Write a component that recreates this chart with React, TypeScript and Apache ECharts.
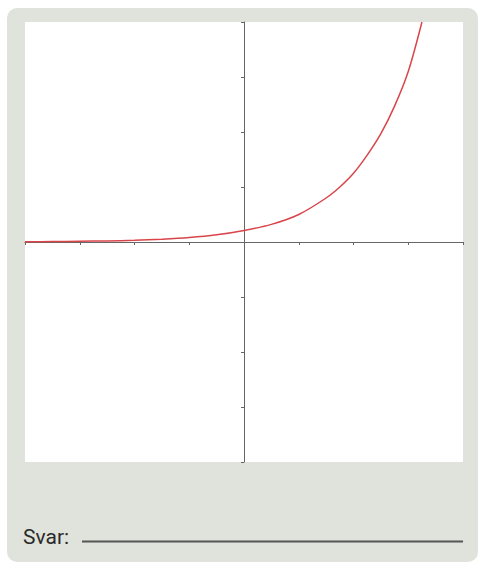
import React, { useEffect, useRef } from "react";
import * as echarts from "echarts";

const xValues = [-4, -3.5, -3, -2.5, -2, -1.5, -1, -0.5, 0, 0.5, 1, 1.5, 1.75, 2, 2.25, 2.5, 2.75, 3, 3.25];
const yValues = [0.005, 0.008, 0.013, 0.02, 0.03, 0.05, 0.08, 0.13, 0.21, 0.32, 0.5, 0.8, 1.0, 1.25, 1.58, 1.97, 2.47, 3.1, 4.0];
const axisMin = -4;
const axisMax = 4;
const answerLabel = "Svar:";

export default function App() {
  const ref = useRef<HTMLDivElement>(null);
  useEffect(() => {
    if (!ref.current) return;
    const chart = echarts.init(ref.current, undefined, { renderer: "svg" });
    const data = xValues.map((x, i) => [x, yValues[i]]);
    chart.setOption({
      animation: false,
      backgroundColor: "#ffffff",
      graphic: [
        {
          type: "rect",
          z: -100,
          silent: true,
          shape: { x: 7, y: 8, width: 471, height: 554, r: 10 },
          style: { fill: "#e0e3dc" },
        },
        {
          type: "text",
          z: 100,
          x: 23,
          y: 547,
          style: {
            text: answerLabel,
            fontFamily: "Roboto",
            fontSize: 21,
            fill: "#2a2a2a",
            textVerticalAlign: "bottom",
          },
        },
        {
          type: "line",
          z: 100,
          shape: { x1: 82, y1: 541.5, x2: 463, y2: 541.5 },
          style: { stroke: "#555555", lineWidth: 2 },
        },
      ],
      grid: {
        left: 25,
        top: 22,
        width: 438,
        height: 440,
        show: true,
        backgroundColor: "#ffffff",
        borderWidth: 0,
      },
      xAxis: {
        type: "value",
        min: axisMin,
        max: axisMax,
        interval: 1,
        axisLine: { onZero: true, lineStyle: { color: "#666666", width: 1 } },
        axisTick: { show: true, length: 3, lineStyle: { color: "#666666" } },
        axisLabel: { show: false },
        splitLine: { show: false },
      },
      yAxis: {
        type: "value",
        min: axisMin,
        max: axisMax,
        interval: 1,
        axisLine: { onZero: true, lineStyle: { color: "#666666", width: 1 } },
        axisTick: { show: true, length: 3, lineStyle: { color: "#666666" } },
        axisLabel: { show: false },
        splitLine: { show: false },
      },
      series: [
        {
          type: "line",
          data,
          smooth: 0.3,
          showSymbol: false,
          clip: true,
          lineStyle: { color: "#d9454a", width: 1.5 },
        },
      ],
    });
    return () => chart.dispose();
  }, []);
  return (
    <div
      ref={ref}
      style={{ position: "absolute", left: 0, top: 0, width: 484, height: 564 }}
    />
  );
}
